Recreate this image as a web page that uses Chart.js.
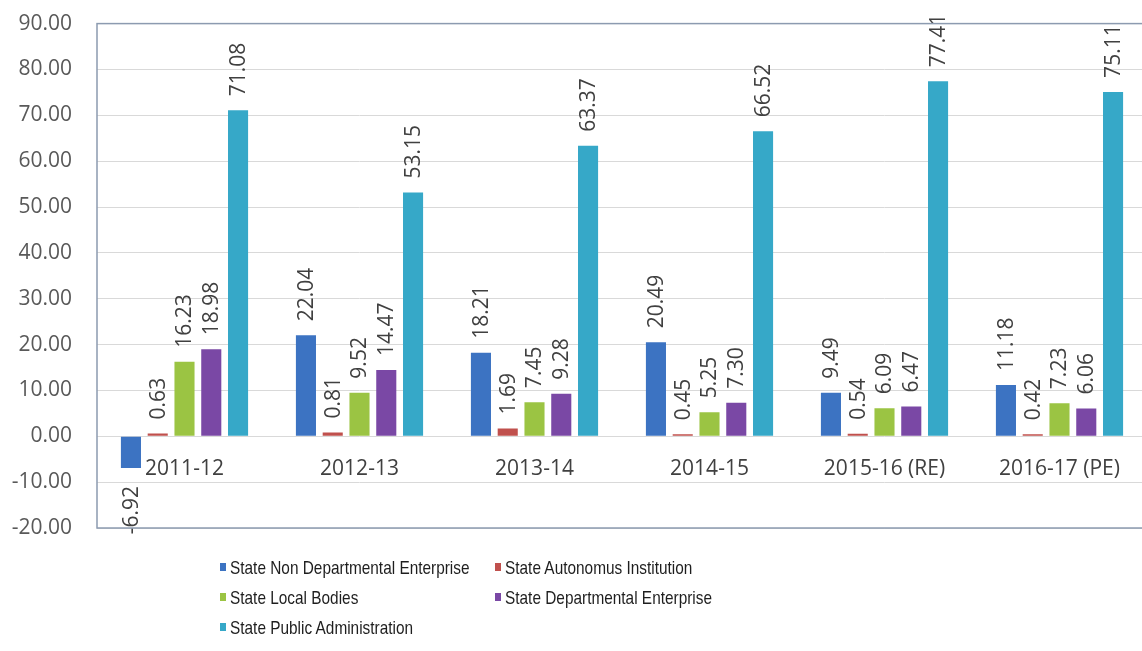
<!DOCTYPE html>
<html>
<head>
<meta charset="utf-8">
<script src="https://cdn.jsdelivr.net/npm/chart.js@4"></script>
<style>
  html, body { margin: 0; padding: 0; background: #fff; overflow: hidden; }
  #wrap { position: relative; width: 1142px; height: 651px; overflow: hidden; }
  #barChart { position: absolute; left: 0; top: -14px; }
  #legend { position: absolute; left: 0; top: 0; width: 1142px; height: 651px; pointer-events: none;
    font-family: "Liberation Sans", Arial, sans-serif; font-size: 19px; color: #1e1e1e; }
  .item { position: absolute; white-space: nowrap; line-height: 20px; }
  .item i { display: inline-block; width: 6px; height: 8px; margin-right: 4px; vertical-align: 3px; }
  .item span { display: inline-block; transform: scaleX(0.81); transform-origin: left center; }
</style>
</head>
<body>
<div id="wrap">
  <canvas id="barChart" width="1148" height="665"></canvas>
  <div id="legend"></div>
</div>
<script>
// categories and series
const categories = ["2011-12", "2012-13", "2013-14", "2014-15", "2015-16 (RE)", "2016-17 (PE)"];
const nonDeptEnterprise = [-6.92, 22.04, 18.21, 20.49, 9.49, 11.18];
const autonomousInst = [0.63, 0.81, 1.69, 0.45, 0.54, 0.42];
const localBodies = [16.23, 9.52, 7.45, 5.25, 6.09, 7.23];
const deptEnterprise = [18.98, 14.47, 9.28, 7.30, 6.47, 6.06];
const publicAdmin = [71.08, 53.15, 63.37, 66.52, 77.41, 75.11];

const seriesNames = [
  "State Non Departmental Enterprise",
  "State Autonomus Institution",
  "State Local Bodies",
  "State Departmental Enterprise",
  "State Public Administration",
];
const seriesColors = ["#3c73c2", "#c0504d", "#9bc443", "#7a48a5", "#36a8c8"];
const seriesData = [nonDeptEnterprise, autonomousInst, localBodies, deptEnterprise, publicAdmin];

// value labels, rotated, outside the end of each bar
const valueLabels = {
  id: "valueLabels",
  afterDatasetsDraw(chart) {
    const ctx = chart.ctx;
    ctx.save();
    ctx.font = "21px 'Open Sans', sans-serif";
    ctx.fillStyle = "#404040";
    ctx.textBaseline = "middle";
    chart.data.datasets.forEach((ds, i) => {
      chart.getDatasetMeta(i).data.forEach((bar, j) => {
        const v = ds.data[j];
        ctx.save();
        ctx.translate(bar.x + 1, bar.y);
        ctx.rotate(-Math.PI / 2);
        if (v >= 0) {
          ctx.textAlign = "left";
          ctx.fillText(v.toFixed(2), 14, 0);
        } else {
          ctx.textAlign = "right";
          ctx.fillText(v.toFixed(2), -18, 0);
        }
        ctx.restore();
      });
    });
    ctx.restore();
  },
};

// plot area frame
const plotFrame = {
  id: "plotFrame",
  afterDraw(chart) {
    const a = chart.chartArea;
    const ctx = chart.ctx;
    ctx.save();
    ctx.strokeStyle = "#8c9bb0";
    ctx.lineWidth = 1.5;
    ctx.strokeRect(a.left, a.top, a.right - a.left, a.bottom - a.top);
    ctx.restore();
  },
};

const chart = new Chart(document.getElementById("barChart").getContext("2d"), {
  type: "bar",
  data: {
    labels: categories,
    datasets: seriesData.map((d, i) => ({
      label: seriesNames[i],
      data: d,
      backgroundColor: seriesColors[i],
      barPercentage: 0.75,
      categoryPercentage: 0.765,
    })),
  },
  options: {
    responsive: false,
    animation: false,
    layout: { padding: { top: 23, right: 1, bottom: 123, left: 0 } },
    plugins: {
      legend: { display: false },
      tooltip: { enabled: false },
    },
    scales: {
      x: {
        position: { y: 0 },
        grid: { display: false },
        border: { display: false },
        ticks: {
          padding: 12,
          color: "#404040",
          font: { family: "'Open Sans', sans-serif", size: 21 },
          maxRotation: 0,
        },
        afterFit(scale) { scale.height = 0; },
      },
      y: {
        min: -20,
        max: 90,
        grid: { color: "#d9d9d9", drawTicks: false },
        border: { display: false },
        ticks: {
          stepSize: 10,
          padding: 25,
          color: "#595959",
          font: { family: "'Open Sans', sans-serif", size: 21 },
          callback: (v) => Number(v).toFixed(2),
        },
        afterFit(scale) { scale.width = 97; },
      },
    },
  },
  plugins: [valueLabels, plotFrame],
});

// two-column legend under the plot
const legendPos = [[220, 558], [495, 558], [220, 588], [495, 588], [220, 618]];
const legendEl = document.getElementById("legend");
chart.data.datasets.forEach((ds, i) => {
  const el = document.createElement("div");
  el.className = "item";
  el.style.left = legendPos[i][0] + "px";
  el.style.top = legendPos[i][1] + "px";
  el.innerHTML = '<i style="background:' + ds.backgroundColor + '"></i><span>' + ds.label + "</span>";
  legendEl.appendChild(el);
});
</script>
</body>
</html>
